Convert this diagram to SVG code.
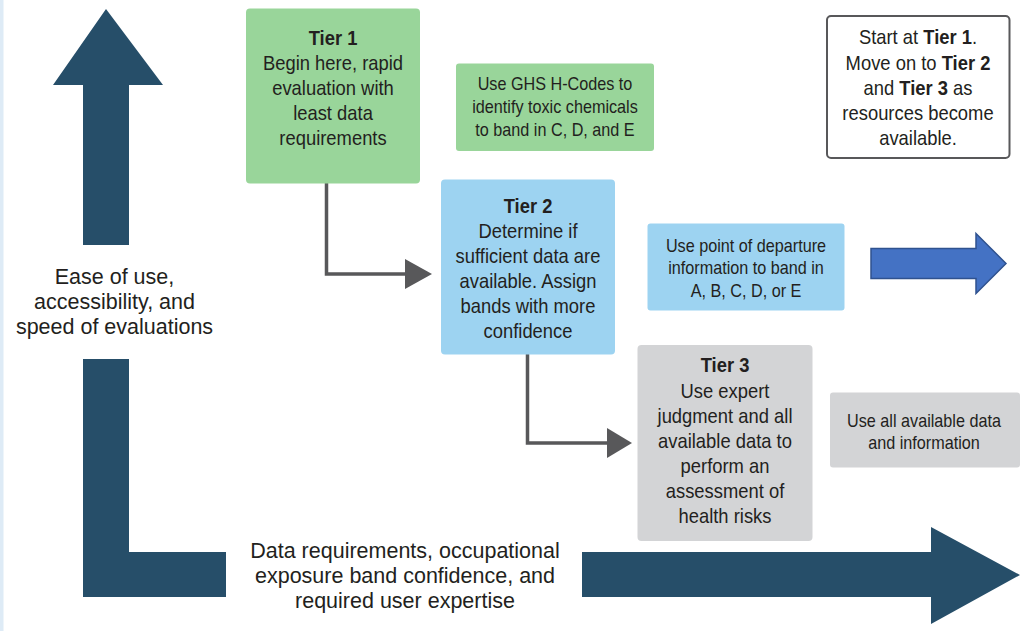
<svg xmlns="http://www.w3.org/2000/svg" width="1020" height="631" viewBox="0 0 1020 631">
  <style>
    .t { font-family: "Liberation Sans", Arial, sans-serif; fill: #231f20; text-anchor: middle; }
    .tier { font-size: 20px; }
    .small { font-size: 18px; }
    .big { font-size: 21.5px; }
    .b { font-weight: bold; }
    .navy { fill: #264e69; }
    .conn { fill: none; stroke: #58585a; stroke-width: 3.5; }
    .head { fill: #58585a; }
  </style>
  <rect x="0" y="0" width="1020" height="631" fill="#ffffff"/>
  <rect x="0" y="0" width="3.5" height="631" fill="#deebf6"/>

  <g id="axis-up">
    <polygon class="navy" points="106,9 163,85 129,85 129,245 83,245 83,85 53,85"/>
    <text class="t big" x="114.5" y="284">Ease of use,</text>
    <text class="t big" x="114.5" y="309">accessibility, and</text>
    <text class="t big" x="114.5" y="334">speed of evaluations</text>
  </g>

  <g id="axis-right">
    <polygon class="navy" points="83,359 129,359 129,552 226,552 226,597 83,597"/>
    <polygon class="navy" points="582,552 931,552 931,527 1020,575 931,624 931,597 582,597"/>
    <text class="t big" x="405" y="557.5">Data requirements, occupational</text>
    <text class="t big" x="405" y="583">exposure band confidence, and</text>
    <text class="t big" x="405" y="608">required user expertise</text>
  </g>

  <g id="connectors">
    <polyline class="conn" points="326.5,183 326.5,274 406,274"/>
    <polygon class="head" points="405,259 432,274 405,289"/>
    <polyline class="conn" points="527.5,354 527.5,443 608,443"/>
    <polygon class="head" points="607,428 632,443 607,458"/>
  </g>

  <g id="tier1">
    <rect x="246" y="8.5" width="174" height="175" rx="4" fill="#99d59a"/>
    <g transform="translate(333,0) scale(0.92,1)">
      <text class="t tier b" x="0" y="45">Tier 1</text>
      <text class="t tier" x="0" y="70">Begin here, rapid</text>
      <text class="t tier" x="0" y="95">evaluation with</text>
      <text class="t tier" x="0" y="120">least data</text>
      <text class="t tier" x="0" y="145">requirements</text>
    </g>
  </g>

  <g id="ghs">
    <rect x="456" y="63.5" width="198" height="87.5" rx="3" fill="#99d59a"/>
    <g transform="translate(555,0) scale(0.9,1)">
      <text class="t small" x="0" y="90">Use GHS H-Codes to</text>
      <text class="t small" x="0" y="113">identify toxic chemicals</text>
      <text class="t small" x="0" y="136">to band in C, D, and E</text>
    </g>
  </g>

  <g id="start-note">
    <rect x="827" y="16" width="182.5" height="142" rx="4" fill="#ffffff" stroke="#58585a" stroke-width="2"/>
    <g transform="translate(918,0) scale(0.92,1)">
      <text class="t tier" x="0" y="44">Start at <tspan class="b">Tier 1</tspan>.</text>
      <text class="t tier" x="0" y="70">Move on to <tspan class="b">Tier 2</tspan></text>
      <text class="t tier" x="0" y="95">and <tspan class="b">Tier 3</tspan> as</text>
      <text class="t tier" x="0" y="120.5">resources become</text>
      <text class="t tier" x="0" y="145.5">available.</text>
    </g>
  </g>

  <g id="tier2">
    <rect x="441" y="179.5" width="174" height="175" rx="4" fill="#9dd3f1"/>
    <g transform="translate(528,0) scale(0.92,1)">
      <text class="t tier b" x="0" y="213">Tier 2</text>
      <text class="t tier" x="0" y="238">Determine if</text>
      <text class="t tier" x="0" y="263">sufficient data are</text>
      <text class="t tier" x="0" y="288">available. Assign</text>
      <text class="t tier" x="0" y="313">bands with more</text>
      <text class="t tier" x="0" y="338">confidence</text>
    </g>
  </g>

  <g id="pod">
    <rect x="647.5" y="223.5" width="197" height="87" rx="3" fill="#9dd3f1"/>
    <g transform="translate(746,0) scale(0.9,1)">
      <text class="t small" x="0" y="252">Use point of departure</text>
      <text class="t small" x="0" y="274.5">information to band in</text>
      <text class="t small" x="0" y="297">A, B, C, D, or E</text>
    </g>
  </g>

  <g id="blue-arrow">
    <polygon points="871,248.5 976,248.5 976,233.5 1006,263.5 976,293.5 976,278.5 871,278.5" fill="#4472c4" stroke="#2f528f" stroke-width="1.5"/>
  </g>

  <g id="tier3">
    <rect x="637.5" y="345" width="175" height="196" rx="4" fill="#d3d4d6"/>
    <g transform="translate(725,0) scale(0.92,1)">
      <text class="t tier b" x="0" y="372.5">Tier 3</text>
      <text class="t tier" x="0" y="398">Use expert</text>
      <text class="t tier" x="0" y="423">judgment and all</text>
      <text class="t tier" x="0" y="448">available data to</text>
      <text class="t tier" x="0" y="473">perform an</text>
      <text class="t tier" x="0" y="498">assessment of</text>
      <text class="t tier" x="0" y="523.5">health risks</text>
    </g>
  </g>

  <g id="all-data">
    <rect x="830" y="392.5" width="190" height="75" rx="3" fill="#d3d4d6"/>
    <g transform="translate(924,0) scale(0.9,1)">
      <text class="t small" x="0" y="427">Use all available data</text>
      <text class="t small" x="0" y="449">and information</text>
    </g>
  </g>
</svg>
